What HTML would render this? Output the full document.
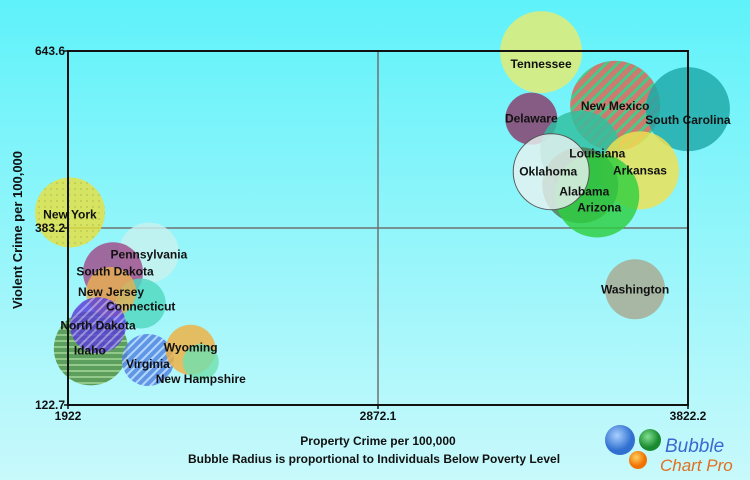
<!DOCTYPE html>
<html style="margin:0;padding:0;width:750px;height:480px;background:linear-gradient(#5ff2fa,#c8f9fb) no-repeat;background-size:750px 480px"><head><meta charset="utf-8"><style>
body{margin:0;padding:0;width:750px;height:480px;overflow:hidden;background:transparent;font-family:"Liberation Sans",sans-serif}
svg text{font-family:"Liberation Sans",sans-serif}
</style></head><body>
<svg id="chart" width="750" height="480" xmlns="http://www.w3.org/2000/svg" style="position:absolute;left:0;top:0">
<defs>
<pattern id="stripes" width="8" height="8" patternUnits="userSpaceOnUse" patternTransform="rotate(45)"><rect width="8" height="8" fill="#e06050"/><rect width="3" height="8" fill="#40c070"/></pattern>
<pattern id="hstripes" width="6" height="6" patternUnits="userSpaceOnUse"><rect width="6" height="6" fill="#4a8a3a"/><rect y="4" width="6" height="2" fill="#8ac070"/></pattern>
<pattern id="blue" width="6" height="6" patternUnits="userSpaceOnUse" patternTransform="rotate(45)"><rect width="6" height="6" fill="#5080e0"/><rect width="2" height="6" fill="#b0d0ff"/></pattern>
<pattern id="purple" width="6" height="6" patternUnits="userSpaceOnUse" patternTransform="rotate(45)"><rect width="6" height="6" fill="#5a3ad8"/><rect width="2" height="6" fill="#a090f0"/></pattern>
<pattern id="dots" width="6" height="6" patternUnits="userSpaceOnUse"><rect width="6" height="6" fill="#e6e040"/><circle cx="3" cy="3" r="1" fill="#c8c030"/></pattern>
</defs>
<g id="plot"></g>
</svg>
<script>
const states=["Tennessee","New Mexico","South Carolina","Delaware","Louisiana","Arkansas","Alabama","Arizona","Oklahoma","Washington","New York","Idaho","Pennsylvania","South Dakota","Connecticut","New Jersey","North Dakota","Virginia","Wyoming","New Hampshire"];
const propertyCrime=[3372,3599,3822,3342,3492,3675,3492,3544,3403,3660,1928,1992,2170,2060,2145,2054,2014,2167,2298,2329];
const violentCrime=[642,563,558,544,497,468,446,431,466,293,406,206,347,318,272,289,240,189,204,186];
const poverty=[41,45,42,26,40,39,38,42,38,30,35,37,30,30,25,25,28,26,25,18];
const xTicks=["1922","2872.1","3822.2"];
const yTicks=["122.7","383.2","643.6"];
const X0=1922,X1=3822.2,Y0=122.7,Y1=643.6;
const L=68,R=688,T=51,B=405;
const xs=v=>L+(v-X0)/(X1-X0)*(R-L);
const ys=v=>B-(v-Y0)/(Y1-Y0)*(B-T);
const rs=v=>v*1.0;
const fills={"Tennessee":"#e6ec70","New Mexico":"url(#stripes)","South Carolina":"#1fa8a8","Delaware":"#8a3a6a","Louisiana":"#30c0a0","Arkansas":"#f0e050","Alabama":"#4a7a50","Arizona":"#30d040","Oklahoma":"#e8f2f0","Washington":"#a8a890","New York":"url(#dots)","Idaho":"url(#hstripes)","Pennsylvania":"#c8f0ee","South Dakota":"#a04a8a","Connecticut":"#50d8c0","New Jersey":"#e8b050","North Dakota":"url(#purple)","Virginia":"url(#blue)","Wyoming":"#f0b040","New Hampshire":"#70e0b0"};
const lab={"Tennessee":[0,12],"South Carolina":[0,11],"Louisiana":[17,3],"Alabama":[4,6],"Arizona":[2,12],"New Hampshire":[0,17],"Oklahoma":[-3,0],"South Dakota":[2,-1],"Connecticut":[0,3],"Wyoming":[0,-2],"Virginia":[0,4],"Idaho":[-1,2],"New York":[0,2],"Pennsylvania":[0,2]};
const NS="http://www.w3.org/2000/svg";
const g=document.getElementById('plot');
function mk(t,a,p){const e=document.createElementNS(NS,t);for(const k in a)e.setAttribute(k,a[k]);(p||g).appendChild(e);return e;}
let e=mk('line',{x1:(L+R)/2,y1:T,x2:(L+R)/2,y2:B,stroke:'#707070','stroke-width':1.5});


e=mk('line',{x1:L,y1:(T+B)/2,x2:R,y2:(T+B)/2,stroke:'#707070','stroke-width':1.5});


const bg=mk('g',{});


states.forEach((s,i)=>{
 const c=mk('circle',{cx:xs(propertyCrime[i]),cy:ys(violentCrime[i]),r:rs(poverty[i]),fill:fills[s],'fill-opacity':0.82,stroke:s==="Oklahoma"?'#555':'none','stroke-width':1},bg);
 
 
});
e=mk('rect',{x:L,y:T,width:R-L,height:B-T,fill:'none',stroke:'#111','stroke-width':2});


states.forEach((s,i)=>{
 const o=lab[s]||[0,0];
 const t=mk('text',{x:xs(propertyCrime[i])+o[0],y:ys(violentCrime[i])+o[1]+4,'text-anchor':'middle','font-size':12,'font-weight':'bold',fill:'#111'});
 t.textContent=s;
 
 
});
xTicks.forEach((v,i)=>{
 const x=xs(+v);
 mk('line',{x1:x,y1:B,x2:x,y2:B+4,stroke:'#111','stroke-width':1.5});
 const t=mk('text',{x:x,y:B+15,'text-anchor':'middle','font-size':12,'font-weight':'bold',fill:'#111'});
 t.textContent=v;
 
 
});
yTicks.forEach((v,i)=>{
 const y=ys(+v);
 mk('line',{x1:L-4,y1:y,x2:L,y2:y,stroke:'#111','stroke-width':1.5});
 const t=mk('text',{x:L-3,y:y+4,'text-anchor':'end','font-size':12,'font-weight':'bold',fill:'#111'});
 t.textContent=v;
 
 
});
</script>
<svg style="position:absolute;left:0;top:0" width="750" height="480">
<text x="378" y="445" text-anchor="middle" font-size="12" font-weight="bold" fill="#111">Property Crime per 100,000</text>
<text x="374" y="463" text-anchor="middle" font-size="12" font-weight="bold" fill="#111">Bubble Radius is proportional to Individuals Below Poverty Level</text>
<text transform="translate(22,230) rotate(-90)" text-anchor="middle" font-size="13" font-weight="bold" fill="#111">Violent Crime per 100,000</text>
<g>
<defs>
<radialGradient id="lb" cx="40%" cy="35%"><stop offset="0" stop-color="#a8d0ff"/><stop offset="1" stop-color="#3070d0"/></radialGradient>
<radialGradient id="lg" cx="40%" cy="35%"><stop offset="0" stop-color="#80e090"/><stop offset="1" stop-color="#1a8a30"/></radialGradient>
<radialGradient id="lo" cx="40%" cy="35%"><stop offset="0" stop-color="#ffd060"/><stop offset="1" stop-color="#f07000"/></radialGradient>
</defs>
<circle cx="620" cy="440" r="15" fill="url(#lb)"/>
<circle cx="650" cy="440" r="11" fill="url(#lg)"/>
<circle cx="638" cy="460" r="9" fill="url(#lo)"/>
<text x="665" y="452" font-size="19" font-style="italic" fill="#3a6ad0">Bubble</text>
<text x="660" y="471" font-size="17" font-style="italic" fill="#e07020">Chart Pro</text>
</g>
</svg>
</body></html>
